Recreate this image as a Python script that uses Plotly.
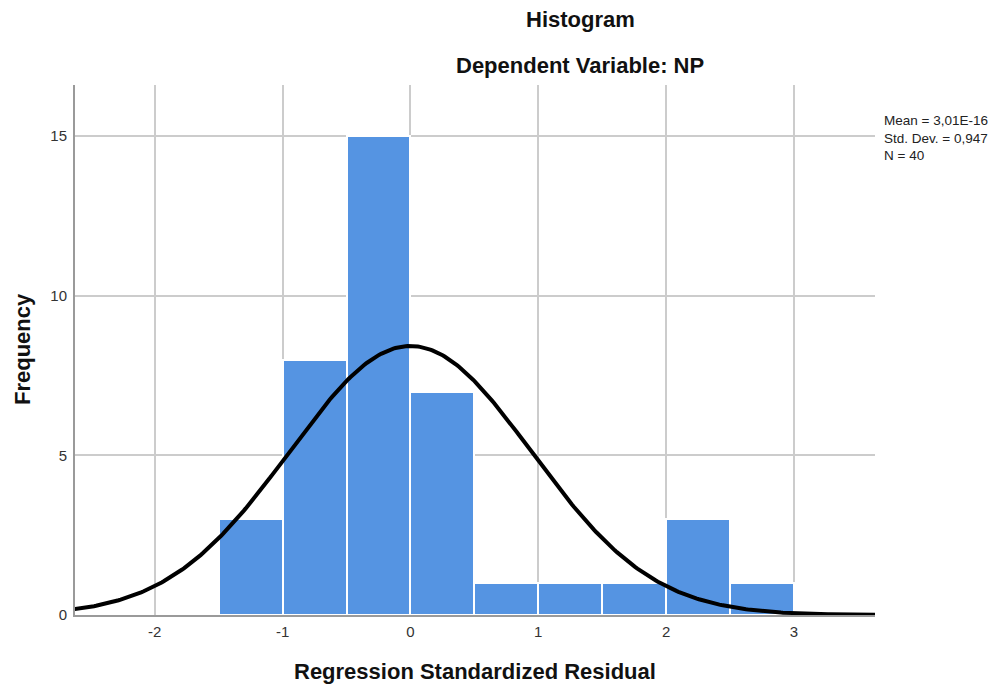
import numpy as np
import plotly.graph_objects as go

# Data
bin_left = [-1.5, -1.0, -0.5, 0.0, 0.5, 1.0, 1.5, 2.0, 2.5]
bin_width = 0.5
counts = [3, 8, 15, 7, 1, 1, 1, 3, 1]
mean_val = 3.01e-16
std_dev = 0.947
n_obs = 40
x_ticks = [-2, -1, 0, 1, 2, 3]
y_ticks = [0, 5, 10, 15]
stats_text = ["Mean = 3,01E-16", "Std. Dev. = 0,947", "N = 40"]

bar_centers = [b + bin_width / 2 for b in bin_left]

# Normal curve implied by the reported statistics
xs = np.linspace(-2.7, 3.7, 400)
ys = n_obs * bin_width * np.exp(-0.5 * ((xs - mean_val) / std_dev) ** 2) / (std_dev * np.sqrt(2 * np.pi))

fig = go.Figure()
fig.add_trace(go.Bar(
    x=bar_centers, y=counts, width=[bin_width] * len(counts),
    marker=dict(color="#5594e2", line=dict(color="white", width=2)),
    showlegend=False, hoverinfo="skip",
))
fig.add_trace(go.Scatter(
    x=xs, y=ys, mode="lines", line=dict(color="black", width=4),
    showlegend=False, hoverinfo="skip",
))

W, H = 999, 677
L, R, T, B = 67, 132, 77, 70
OFF = 8  # page body margin
pw = W - L - R
ph = H - T - B


def px_x(x):
    return (x - OFF - L) / pw


def px_y(y):
    return (H - B - (y - OFF)) / ph


font_family = "Liberation Sans, Arial, sans-serif"
annotations = [
    dict(text="<b>Histogram</b>", x=px_x(580), y=px_y(20), xref="paper", yref="paper",
         xanchor="center", yanchor="middle",
         showarrow=False, font=dict(size=22, color="#111")),
    dict(text="<b>Dependent Variable: NP</b>", x=px_x(580), y=px_y(65), xref="paper", yref="paper",
         xanchor="center", yanchor="middle",
         showarrow=False, font=dict(size=22, color="#111")),
    dict(text="<b>Regression Standardized Residual</b>", x=px_x(475), y=px_y(671), xref="paper", yref="paper",
         xanchor="center", yanchor="middle",
         showarrow=False, font=dict(size=22, color="#111")),
    dict(text="<b>Frequency</b>", x=px_x(22), y=px_y(349), xref="paper", yref="paper",
         xanchor="center", yanchor="middle", textangle=-90,
         showarrow=False, font=dict(size=22, color="#111")),
    dict(text="<br>".join(stats_text), x=px_x(883), y=px_y(112), xref="paper", yref="paper",
         xanchor="left", yanchor="top", align="left", showarrow=False,
         borderpad=0, font=dict(size=13.5, color="#222")),
]

fig.update_layout(
    width=W, height=H,
    margin=dict(l=L, r=R, t=T, b=B, autoexpand=False),
    plot_bgcolor="white", paper_bgcolor="white",
    font=dict(family=font_family, color="#222"),
    bargap=0,
    xaxis=dict(
        range=[-2.624, 3.634], tickvals=x_ticks, ticktext=[str(v) for v in x_ticks],
        showgrid=True, gridcolor="#cccccc", gridwidth=1.5,
        showline=True, linecolor="#9a9a9a", linewidth=2,
        zeroline=False, ticks="", tickfont=dict(size=15, color="#333"),
        ticklabelstandoff=2, automargin=False,
    ),
    yaxis=dict(
        range=[0, 16.6], tickvals=y_ticks, ticktext=[str(v) for v in y_ticks],
        showgrid=True, gridcolor="#cccccc", gridwidth=1.5,
        showline=True, linecolor="#9a9a9a", linewidth=2,
        zeroline=False, ticks="", tickfont=dict(size=15, color="#333"),
        ticklabelstandoff=3, automargin=False,
    ),
    annotations=annotations,
)

fig.write_html("out.html")
